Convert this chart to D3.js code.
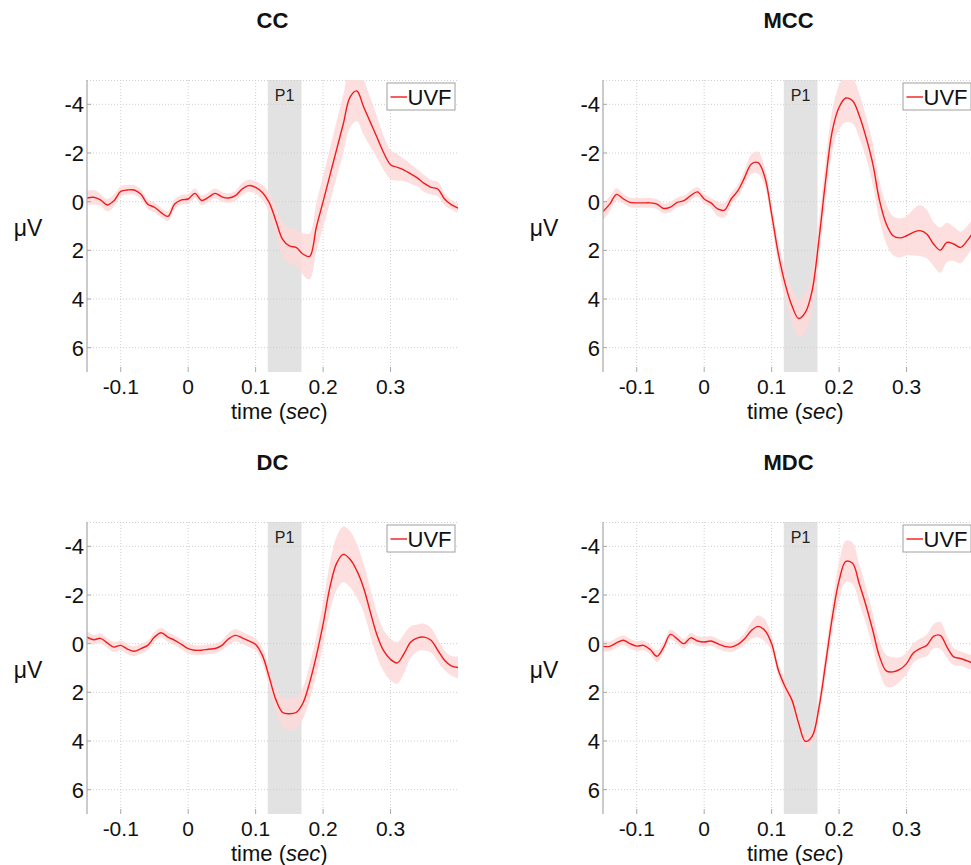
<!DOCTYPE html>
<html>
<head>
<meta charset="utf-8">
<script src="https://cdn.jsdelivr.net/npm/d3@7"></script>
<style>
  html, body { margin: 0; padding: 0; background: #fff; }
  svg { display: block; font-family: "Liberation Sans", Arial, Helvetica, sans-serif; }
</style>
</head>
<body>
<svg id="chart" width="971" height="865"></svg>
<script>
// ---- data ----
const times = d3.range(56).map(i => +(-0.15 + i * 0.01).toFixed(2));
const panelNames = ["CC", "MCC", "DC", "MDC"];
const xTicks = [-0.1, 0, 0.1, 0.2, 0.3];
const xTickLabels = ["-0.1", "0", "0.1", "0.2", "0.3"];
const yTicks = [-4, -2, 0, 2, 4, 6];
const yTickLabels = ["-4", "-2", "0", "2", "4", "6"];
const p1Window = [0.118, 0.168];
const legendLabel = "UVF";

const ccMean = [-0.15,-0.18,-0.07,0.14,-0.04,-0.42,-0.48,-0.48,-0.30,0.10,0.23,0.45,0.60,0.10,-0.07,
  -0.11,-0.34,-0.05,-0.18,-0.34,-0.20,-0.15,-0.25,-0.52,-0.66,-0.59,-0.38,0.03,0.78,1.55,1.82,1.88,2.15,2.25,
  1.05,0.00,-1.07,-2.14,-3.20,-4.30,-4.55,-3.90,-3.27,-2.64,-2.00,-1.52,-1.41,-1.30,-1.14,-0.97,-0.75,-0.59,-0.52,-0.11,0.12,0.26];
const ccSem = [0.3,0.3,0.25,0.25,0.25,0.2,0.2,0.2,0.2,0.2,0.2,0.2,0.2,0.2,0.2,
  0.2,0.2,0.2,0.2,0.2,0.2,0.2,0.2,0.25,0.25,0.25,0.3,0.4,0.55,0.7,0.75,0.75,0.85,0.95,
  1.0,1.05,1.1,1.15,1.2,1.25,1.25,1.15,1.0,0.85,0.7,0.6,0.55,0.45,0.4,0.35,0.35,0.3,0.3,0.25,0.2,0.2];

const mccMean = [0.40,0.10,-0.30,-0.12,0.03,0.05,0.05,0.05,0.10,0.28,0.22,0.03,-0.04,-0.25,-0.40,
  -0.11,0.05,0.30,0.35,-0.11,-0.45,-1.00,-1.55,-1.60,-1.00,0.51,2.15,3.38,4.27,4.80,4.55,3.66,1.60,-0.86,
  -2.92,-3.88,-4.26,-4.15,-3.53,-2.64,-1.55,-0.04,0.92,1.40,1.49,1.40,1.26,1.19,1.33,1.74,1.99,1.67,1.74,1.88,1.60,1.20];
const mccSem = [0.35,0.3,0.25,0.2,0.2,0.2,0.2,0.2,0.2,0.2,0.2,0.2,0.2,0.2,0.2,
  0.2,0.2,0.3,0.3,0.25,0.25,0.3,0.4,0.45,0.4,0.4,0.5,0.6,0.7,0.8,0.8,0.8,0.8,0.8,
  0.85,0.9,1.0,0.95,0.9,0.85,0.85,0.8,0.8,0.8,0.8,0.8,0.95,1.05,1.0,0.9,0.93,0.8,0.7,0.65,0.6,0.6];

const dcMean = [-0.27,-0.16,-0.22,-0.03,0.14,0.07,0.22,0.31,0.20,0.07,-0.27,-0.45,-0.27,-0.14,0.03,
  0.20,0.27,0.27,0.23,0.20,0.07,-0.20,-0.34,-0.24,-0.11,0.03,0.48,1.36,2.30,2.83,2.88,2.83,2.45,1.60,
  0.50,-0.80,-2.30,-3.30,-3.67,-3.47,-3.00,-2.30,-1.30,-0.35,0.30,0.65,0.79,0.41,-0.07,-0.24,-0.27,-0.14,0.27,0.68,0.91,0.98];
const dcSem = [0.25,0.2,0.2,0.2,0.2,0.2,0.2,0.2,0.2,0.2,0.2,0.2,0.2,0.2,0.2,
  0.2,0.2,0.2,0.2,0.2,0.2,0.25,0.25,0.25,0.25,0.25,0.3,0.4,0.5,0.6,0.65,0.65,0.65,0.7,
  0.8,0.9,1.0,1.1,1.15,1.15,1.1,1.0,0.95,0.9,0.85,0.85,0.85,0.8,0.65,0.55,0.55,0.5,0.45,0.4,0.4,0.45];

const mdcMean = [0.11,0.11,-0.03,-0.14,0.00,0.10,0.07,0.24,0.52,0.14,-0.38,-0.20,0.00,-0.24,-0.11,
  -0.07,-0.11,0.00,0.11,0.14,0.03,-0.20,-0.54,-0.71,-0.54,0.00,1.09,1.77,2.31,3.27,4.01,3.81,2.65,0.82,
  -1.09,-2.59,-3.38,-3.30,-2.45,-1.56,-0.54,0.54,1.12,1.16,1.06,0.82,0.38,0.20,0.07,-0.30,-0.34,0.14,0.54,0.61,0.71,0.82];
const mdcSem = [0.2,0.2,0.2,0.2,0.2,0.2,0.2,0.2,0.25,0.2,0.2,0.2,0.2,0.2,0.2,
  0.2,0.2,0.2,0.2,0.2,0.2,0.25,0.35,0.45,0.45,0.3,0.25,0.3,0.3,0.3,0.3,0.3,0.4,0.5,
  0.6,0.75,0.85,0.85,0.8,0.75,0.7,0.65,0.65,0.6,0.5,0.45,0.4,0.4,0.45,0.5,0.55,0.45,0.35,0.3,0.3,0.3];

const panelMeans = [ccMean, mccMean, dcMean, mdcMean];
const panelSems = [ccSem, mccSem, dcSem, mdcSem];

// ---- layout ----
const svg = d3.select("#chart");
const plotW = 371, plotH = 292;
const origins = [[87, 80], [603, 80], [87, 522], [603, 522]];

panelNames.forEach((name, pi) => {
  const [x0, y0] = origins[pi];
  const x = d3.scaleLinear().domain([-0.15, 0.4]).range([x0, x0 + plotW]);
  const y = d3.scaleLinear().domain([-5, 7]).range([y0, y0 + plotH]);
  const g = svg.append("g");

  const clipId = "clip" + pi;
  svg.append("clipPath").attr("id", clipId).append("rect")
    .attr("x", x0).attr("y", y0).attr("width", plotW).attr("height", plotH);

  // P1 shaded window
  g.append("rect")
    .attr("x", x(p1Window[0])).attr("y", y0)
    .attr("width", x(p1Window[1]) - x(p1Window[0])).attr("height", plotH)
    .attr("fill", "#e2e2e2");

  // grid
  const grid = g.append("g").attr("stroke", "#cfcfcf").attr("stroke-width", 1).attr("stroke-dasharray", "1,2");
  xTicks.forEach(t => grid.append("line").attr("x1", x(t)).attr("x2", x(t)).attr("y1", y0).attr("y2", y0 + plotH - 6));
  yTicks.forEach(t => grid.append("line").attr("x1", x0).attr("x2", x0 + plotW).attr("y1", y(t)).attr("y2", y(t)));
  grid.append("line").attr("x1", x0).attr("x2", x0 + plotW).attr("y1", y0 + 0.5).attr("y2", y0 + 0.5);

  // band + line
  const data = times.map((t, i) => ({ t, m: panelMeans[pi][i], s: panelSems[pi][i] }));
  const plot = g.append("g").attr("clip-path", `url(#${clipId})`);
  plot.append("path").datum(data)
    .attr("fill", "#fdd9d9").attr("fill-opacity", 0.85)
    .attr("d", d3.area().curve(d3.curveCatmullRom.alpha(0.5))
      .x(d => x(d.t)).y0(d => y(d.m - d.s)).y1(d => y(d.m + d.s)));
  plot.append("path").datum(data)
    .attr("fill", "none").attr("stroke", "#f01c1c").attr("stroke-width", 1.4)
    .attr("d", d3.line().curve(d3.curveCatmullRom.alpha(0.5)).x(d => x(d.t)).y(d => y(d.m)));

  // left axis line and ticks
  g.append("line").attr("x1", x0).attr("x2", x0).attr("y1", y0).attr("y2", y0 + plotH)
    .attr("stroke", "#a8a8a8").attr("stroke-width", 1.2);
  xTicks.forEach(t => g.append("line").attr("x1", x(t)).attr("x2", x(t))
    .attr("y1", y0 + plotH).attr("y2", y0 + plotH - 5).attr("stroke", "#a8a8a8"));
  yTicks.forEach(t => g.append("line").attr("x1", x0).attr("x2", x0 + 4)
    .attr("y1", y(t)).attr("y2", y(t)).attr("stroke", "#a8a8a8"));

  // tick labels
  yTicks.forEach((t, i) => g.append("text").attr("x", x0 - 3).attr("y", y(t) + 8)
    .attr("text-anchor", "end").attr("font-size", 22).attr("fill", "#111").text(yTickLabels[i]));
  xTicks.forEach((t, i) => g.append("text").attr("x", x(t)).attr("y", y0 + plotH + 22)
    .attr("text-anchor", "middle").attr("font-size", 21).attr("fill", "#111").text(xTickLabels[i]));

  // axis labels
  const xl = g.append("text").attr("x", x(0.135)).attr("y", y0 + plotH + 46.5)
    .attr("text-anchor", "middle").attr("font-size", 22).attr("fill", "#111");
  xl.append("tspan").text("time (");
  xl.append("tspan").attr("font-style", "italic").text("sec");
  xl.append("tspan").text(")");
  g.append("text").attr("x", x0 - 59).attr("y", y0 + 156).attr("text-anchor", "middle")
    .attr("font-size", 23).attr("fill", "#111").text("μV");

  // title
  g.append("text").attr("x", x0 + plotW / 2).attr("y", y0 - 52).attr("text-anchor", "middle")
    .attr("font-size", 22).attr("font-weight", "bold").attr("fill", "#111").text(name);

  // P1 label
  g.append("text").attr("x", (x(p1Window[0]) + x(p1Window[1])) / 2).attr("y", y0 + 21)
    .attr("text-anchor", "middle").attr("font-size", 16).attr("fill", "#222").text("P1");

  // legend
  const lx = x0 + plotW - 71, ly = y0 + 3;
  g.append("rect").attr("x", lx).attr("y", ly).attr("width", 68).attr("height", 27)
    .attr("fill", "#fff").attr("stroke", "#a0a0a0").attr("stroke-width", 1);
  g.append("line").attr("x1", lx + 3.5).attr("x2", lx + 20).attr("y1", ly + 14).attr("y2", ly + 14)
    .attr("stroke", "#f01c1c").attr("stroke-width", 1.4);
  g.append("text").attr("x", lx + 20.5).attr("y", ly + 22).attr("font-size", 22).attr("fill", "#111").text(legendLabel);
});
</script>
</body>
</html>
